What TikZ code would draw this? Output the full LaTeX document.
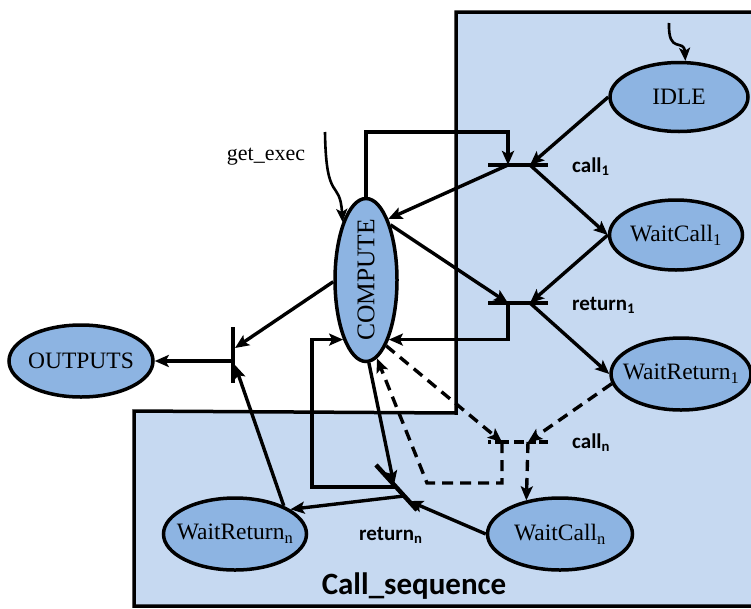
\documentclass[tikz,border=0pt]{standalone}
\usepackage{fontspec}
\setmainfont{Liberation Serif}
\newfontfamily\lblfont{Carlito}
\usetikzlibrary{arrows.meta,shapes.geometric,calc}
\definecolor{regionblue}{HTML}{C6D9F1}
\definecolor{stateblue}{HTML}{8DB4E2}
\begin{document}
\begin{tikzpicture}[x=1pt,y=-1pt,
  state/.style={ellipse, draw, line width=3.5pt, fill=stateblue, inner xsep=-40pt, inner ysep=-15pt,
    font=\fontsize{23.5}{23.5}\selectfont},
  bar/.style={rectangle, fill=black, inner sep=0pt, minimum height=4.5pt, minimum width=60pt},
  conn/.style={line width=3.4pt, -{Stealth[length=14pt,width=12pt,inset=3pt]}},
  dconn/.style={conn, dash pattern=on 11pt off 7pt},
  initarr/.style={line width=2.6pt, -{Stealth[length=13pt,width=11pt,inset=3pt]}},
  trlabel/.style={anchor=west, inner sep=0pt, font=\lblfont\bfseries\fontsize{21}{21}\selectfont},
]
\useasboundingbox (0,0) rectangle (751,608);

% region
\draw[fill=regionblue, line width=3.5pt] (456,12) -- (770,12) -- (770,606) -- (134,606) -- (134,411) -- (456,413) -- cycle;
\node[font=\lblfont\bfseries\fontsize{31}{31}\selectfont, inner sep=0pt] (seq) at (414,586) {Call\_sequence};

% states
\node[state, minimum width=138pt, minimum height=69pt] (IDLE) at (679,97) {IDLE};
\node[state, minimum width=133pt, minimum height=70pt] (WC1) at (676,235) {WaitCall\textsubscript{1}};
\node[state, minimum width=140pt, minimum height=72pt] (WR1) at (681,374) {WaitReturn\textsubscript{1}};
\node[state, minimum width=145pt, minimum height=72pt] (WCn) at (560,534) {WaitCall\textsubscript{n}};
\node[state, minimum width=143pt, minimum height=72pt] (WRn) at (235,534) {WaitReturn\textsubscript{n}};
\node[state, minimum width=144pt, minimum height=72pt] (OUT) at (81,361) {OUTPUTS};
\node[state, minimum width=62pt, minimum height=163pt, font=\fontsize{25.5}{25.5}\selectfont] (CO) at (366,280) {\rotatebox{90}{COMPUTE}};

% transitions
\node[bar] (T1) at (518,165) {};
\node[bar] (R1) at (518,303) {};
\node[bar, rotate=-47.7, minimum width=61pt] (Rn) at (396.5,487.5) {};
\node[bar, rotate=90, minimum width=56pt] (TO) at (233,355) {};
\coordinate (TnL) at (488,442);
\coordinate (TnR) at (548,442);
\draw[line width=4.5pt, dash pattern=on 3pt off 4pt on 14pt off 5pt on 10pt off 5pt on 7pt off 3pt on 20pt] (TnL) -- (TnR);

\coordinate (c1a) at (508,165);
\coordinate (c1b) at (530,165);
\coordinate (t1top) at (508,132);
\coordinate (r1a) at (508,303);
\coordinate (r1b) at (530,303);
\coordinate (cna) at (502,442);
\coordinate (cnb) at (528,442);
\coordinate (cnL) at (427,483);
\coordinate (rnin) at (394,484.8);
\coordinate (rnin2) at (409,501);
\coordinate (rnout) at (404,496);
\coordinate (rnc) at (396,487);
\coordinate (rnL) at (312,487);
\coordinate (oa) at (235,348);
\coordinate (ob) at (235,365);
\coordinate (oc) at (232,361);
\coordinate (ge0) at (325,132);
\coordinate (id0) at (669,23);

% labels
\node[trlabel] (l1) at (572,167) {call\textsubscript{1}};
\node[trlabel] (l2) at (572,305) {return\textsubscript{1}};
\node[trlabel] (l3) at (572,443) {call\textsubscript{n}};
\node[trlabel] (l4) at (359,535) {return\textsubscript{n}};
\node[font=\fontsize{22}{22}\selectfont, inner sep=0pt] (ge) at (266,157) {get\_exec};

% connectors
\draw[conn] (IDLE.west) -- (c1b);
\draw[conn] (c1b) -- (WC1.west);
\draw[conn] (WC1.west) -- (r1b);
\draw[conn] (r1b) -- (WR1.west);
\draw[conn] (CO.north) |- (t1top) -- (c1a);
\draw[conn] (c1a) -- (CO.70);
\draw[conn] (CO.66) -- (r1a);
\draw[conn] (r1a) |- (CO.-69);
\draw[dconn] (CO.-73) -- (cna);
\draw[dconn] (cna) |- (cnL) -- (CO.-82);
\draw[dconn] (WR1.188) -- (cnb);
\draw[dconn] (cnb) -- (WCn.135);
\draw[conn] (CO.-88) -- (rnin);
\draw[conn] (WCn.west) -- (rnin2);
\draw[conn] (rnout) -- (WRn.24);
\draw[conn] (rnc) -- (rnL) |- (CO.-111);
\draw[conn] (CO.183) -- (oa);
\draw[conn] (WRn.30) -- (ob);
\draw[conn] (oc) -- (OUT.east);
\draw[initarr] (ge0) .. controls (326,205) and (340,178) .. (CO.112);
\draw[initarr] (id0) .. controls (668,55) and (684,38) .. (IDLE.80);
\end{tikzpicture}
\end{document}
